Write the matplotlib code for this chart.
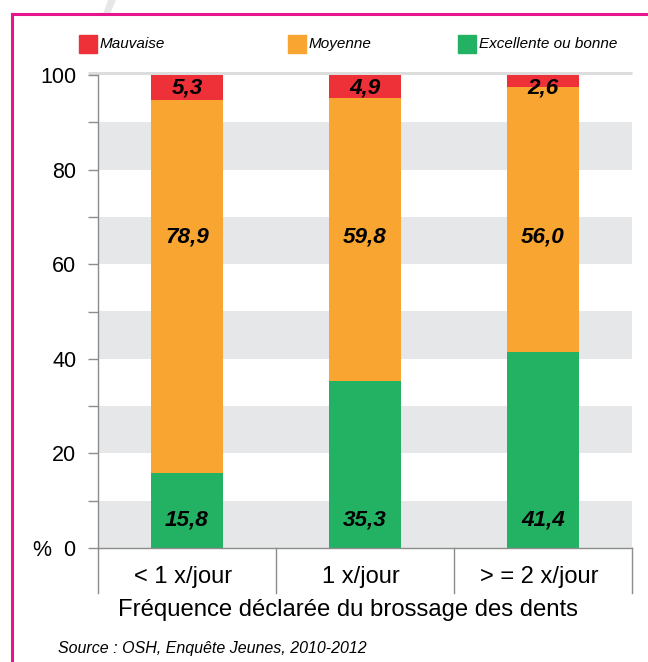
import matplotlib
matplotlib.use('Agg')
import matplotlib.pyplot as plt
from matplotlib.patches import Rectangle, Polygon
from matplotlib.lines import Line2D
from matplotlib.transforms import blended_transform_factory, offset_copy
import numpy as np

plt.rcParams['font.family'] = ['Liberation Sans', 'DejaVu Sans']

categories = ['< 1 x/jour', '1 x/jour', '> = 2 x/jour']
excellente = [15.8, 35.3, 41.4]
moyenne = [78.9, 59.8, 56.0]
mauvaise = [5.3, 4.9, 2.6]
series_names = ['Mauvaise', 'Moyenne', 'Excellente ou bonne']
xlabel = 'Fréquence déclarée du brossage des dents'
source = 'Source : OSH, Enquête Jeunes, 2010-2012'

c_red = '#EE3139'
c_orange = '#F8A532'
c_green = '#23B163'
c_band = '#E6E7E8'
c_axis = '#8C8C8C'
c_pink = '#E6168A'

W, H = 648, 662
fig = plt.figure(figsize=(W / 100, H / 100), dpi=100)
ax = fig.add_axes([98 / W, 1 - 548 / H, (632 - 98) / W, (548 - 75) / H])

idx = np.arange(len(categories))
w = 0.405

# alternating grey bands
for lo in range(0, 100, 20):
    ax.axhspan(lo, lo + 10, color=c_band, lw=0, zorder=0)

exc = np.array(excellente)
moy = np.array(moyenne)
mau = np.array(mauvaise)
ax.bar(idx, exc, width=w, color=c_green, zorder=2)
ax.bar(idx, moy, width=w, bottom=exc, color=c_orange, zorder=2)
ax.bar(idx, mau, width=w, bottom=exc + moy, color=c_red, zorder=2)

fmt = lambda v: ('%.1f' % v).replace('.', ',')
lab = dict(fontsize=16.2, fontweight='bold', fontstyle='italic',
           ha='center', va='center', zorder=3, color='black')
for i in idx:
    ax.text(i, 6.0, fmt(exc[i]), **lab)
    ax.text(i, 65.8, fmt(moy[i]), **lab)
    ax.text(i, 97.2, fmt(mau[i]), **lab)

ax.set_xlim(-0.5, len(categories) - 0.5)
ax.set_ylim(0, 100)

for s in ['top', 'right']:
    ax.spines[s].set_visible(False)
for s in ['left', 'bottom']:
    ax.spines[s].set_color(c_axis)
    ax.spines[s].set_linewidth(1.0)

ax.set_yticks(np.arange(0, 101, 20))
ax.set_yticks(np.arange(10, 100, 20), minor=True)
ax.set_yticklabels(['%  0'] + [str(v) for v in range(20, 101, 20)])
ax.tick_params(axis='y', which='both', direction='out', length=7.5,
               width=1.0, color=c_axis, labelsize=15.5, pad=8)
ax.set_xticks([])

# top grey rule at 100
ax.plot([-0.5 - 10 / 178, len(categories) - 0.5], [100.4, 100.4],
        color='#DDDDDD', lw=2.2, clip_on=False, zorder=1, solid_capstyle='butt')

# category boxes below axis
trans = blended_transform_factory(ax.transData, ax.transAxes)
drop = 45 / (548 - 75)
for xs in np.arange(-0.5, len(categories), 1.0):
    ax.plot([xs, xs], [0, -drop], transform=trans, color=c_axis, lw=1.0,
            clip_on=False)
trans_lab = offset_copy(trans, fig=fig, x=-4, y=0, units='dots')
for i, c in enumerate(categories):
    ax.text(i, -29 / (548 - 75), c, transform=trans_lab, ha='center',
            va='center', fontsize=17)

fig.text(348 / W, 1 - 610 / H, xlabel, ha='center',
         va='center', fontsize=17.2)
fig.text(58 / W, 1 - 649 / H, source, ha='left', va='center',
         fontsize=11.5, fontstyle='italic')

# legend
leg_x = [79, 288, 458]
leg_cols = [c_red, c_orange, c_green]
for x0, col, name in zip(leg_x, leg_cols, series_names):
    fig.patches.append(Rectangle((x0 / W, 1 - 53 / H), 18 / W, 18 / H,
                                 transform=fig.transFigure, color=col))
    fig.text((x0 + 21) / W, 1 - 44 / H, name, ha='left', va='center',
             fontsize=11, fontstyle='italic')

# pink frame
fig.add_artist(Line2D([12 / W, 1], [1 - 14 / H, 1 - 14 / H], color=c_pink,
                      lw=2.2, transform=fig.transFigure))
fig.add_artist(Line2D([12 / W, 12 / W], [0, 1 - 14 / H], color=c_pink,
                      lw=2.2, transform=fig.transFigure))
# faint page shadow at the top
fig.patches.append(Polygon([(103 / W, 1 - 14 / H), (110 / W, 1 - 14 / H),
                            (116 / W, 1), (108 / W, 1)],
                           closed=True, transform=fig.transFigure,
                           color='#D8D8D8', alpha=0.6, lw=0))

fig.savefig('out.png', dpi=100)
